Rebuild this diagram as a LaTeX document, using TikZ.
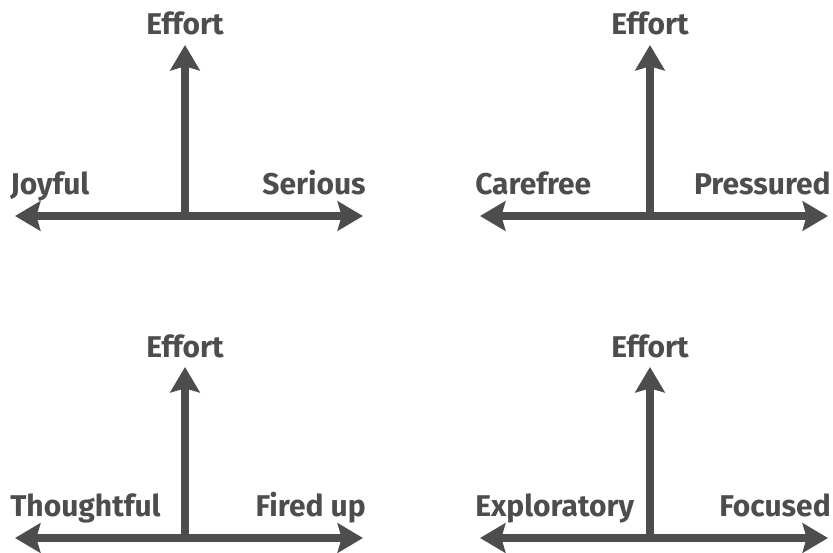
\documentclass[tikz,border=0pt]{standalone}
\usepackage{fontspec}
\setmainfont{Fira Sans}
\usetikzlibrary{arrows.meta}
\definecolor{inkcol}{HTML}{4D4D4D}

\begin{document}
\begin{tikzpicture}[x=0.75pt, y=-0.75pt,
    every node/.style={font=\fontsize{22.5}{26}\selectfont\bfseries, text=inkcol, inner sep=0pt},
    axis/.style={draw=inkcol, line width=6.2pt, -{Stealth[length=19pt, width=22pt, inset=3pt]}},
    twoway/.style={axis, {Stealth[length=19pt, width=22pt, inset=3pt]}-{Stealth[length=19pt, width=22pt, inset=3pt]}}]
  \useasboundingbox (0,0) rectangle (833,553);
  % one panel per quadrant: origin, then the labels at both ends
  \foreach \n/\ox/\oy/\lft/\rgt in {1/185/216/Joyful/Serious, 2/650/216/Carefree/Pressured,
                                    3/185/538/Thoughtful/Fired up, 4/650/538/Exploratory/Focused} {
    \coordinate (o\n) at (\ox,\oy);
    \coordinate (up\n) at (\ox,\oy-171);
    \coordinate (w\n) at (\ox-170,\oy);
    \coordinate (e\n) at (\ox+178,\oy);
    \node[anchor=base] (eff\n) at (\ox,\oy-181) {Effort};
    \node[anchor=base west] (lft\n) at (\ox-175,\oy-22) {\lft};
    \node[anchor=base east] (rgt\n) at (\ox+181,\oy-22) {\rgt};
    \draw[axis] (o\n) -- (up\n);
    \draw[twoway] (w\n) -- (e\n);
  }
\end{tikzpicture}
\end{document}
